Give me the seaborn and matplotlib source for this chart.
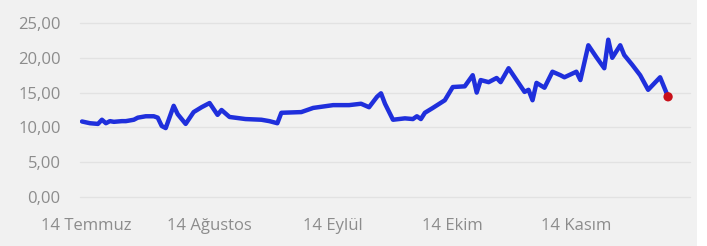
import pandas as pd
import matplotlib
matplotlib.use("Agg")
import matplotlib.pyplot as plt
from matplotlib.patches import Rectangle
from matplotlib.ticker import FuncFormatter
import seaborn as sns

# fiyat serisi (grafikten okunan yaklasik degerler)
tarihler = [
    "2021-07-13", "2021-07-15", "2021-07-17", "2021-07-18", "2021-07-19", "2021-07-20",
    "2021-07-21", "2021-07-23", "2021-07-24", "2021-07-26", "2021-07-27", "2021-07-29",
    "2021-07-31", "2021-08-01", "2021-08-02", "2021-08-03", "2021-08-05", "2021-08-06",
    "2021-08-08", "2021-08-10", "2021-08-12", "2021-08-14", "2021-08-16", "2021-08-17",
    "2021-08-19", "2021-08-23", "2021-08-27", "2021-08-29", "2021-08-31", "2021-09-01",
    "2021-09-06", "2021-09-09", "2021-09-14", "2021-09-18", "2021-09-21", "2021-09-23",
    "2021-09-25", "2021-09-26", "2021-09-27", "2021-09-29", "2021-10-02", "2021-10-04",
    "2021-10-05", "2021-10-06", "2021-10-07", "2021-10-09", "2021-10-12", "2021-10-14",
    "2021-10-17", "2021-10-19", "2021-10-20", "2021-10-21", "2021-10-23", "2021-10-25",
    "2021-10-26", "2021-10-28", "2021-10-30", "2021-11-01", "2021-11-02", "2021-11-03",
    "2021-11-04", "2021-11-06", "2021-11-08", "2021-11-10", "2021-11-11", "2021-11-14",
    "2021-11-15", "2021-11-17", "2021-11-19", "2021-11-21", "2021-11-22", "2021-11-23",
    "2021-11-25", "2021-11-26", "2021-11-28", "2021-11-30", "2021-12-02", "2021-12-05",
    "2021-12-07",
]
fiyat = [
    10.85, 10.6, 10.5, 11.1, 10.6, 10.9,
    10.8, 10.9, 10.9, 11.1, 11.4, 11.6,
    11.6, 11.4, 10.2, 9.9, 13.1, 11.9,
    10.5, 12.2, 12.9, 13.5, 11.8, 12.5,
    11.5, 11.2, 11.1, 10.9, 10.6, 12.1,
    12.2, 12.8, 13.2, 13.2, 13.4, 12.9,
    14.4, 14.9, 13.4, 11.1, 11.3, 11.2,
    11.6, 11.2, 12.1, 12.8, 13.9, 15.8,
    15.9, 17.5, 15.0, 16.8, 16.5, 17.1,
    16.5, 18.5, 16.8, 15.1, 15.4, 13.9,
    16.4, 15.7, 18.0, 17.5, 17.2, 18.0,
    16.8, 21.8, 20.1, 18.5, 22.6, 20.0,
    21.8, 20.4, 19.0, 17.5, 15.4, 17.2,
    14.4,
]

tick_tarihleri = ["2021-07-14", "2021-08-14", "2021-09-14", "2021-10-14", "2021-11-14"]
tick_etiketleri = ["14 Temmuz", "14 Ağustos", "14 Eylül", "14 Ekim", "14 Kasım"]
y_ticks = [0, 5, 10, 15, 20, 25]

df = pd.DataFrame({"tarih": pd.to_datetime(tarihler), "fiyat": fiyat})

sns.set_style("white")
plt.rcParams["font.family"] = ["Open Sans", "DejaVu Sans"]

W, H = 707, 246
fig = plt.figure(figsize=(W / 100, H / 100), dpi=100)
fig.patch.set_facecolor("white")
fig.patches.append(Rectangle((0, 0), 697 / W, 1, transform=fig.transFigure,
                             facecolor="#f1f1f1", edgecolor="none", zorder=-10))

ax = fig.add_axes([80 / W, (H - 197) / H, (690 - 80) / W, (197 - 23) / H])
ax.set_facecolor("none")

sns.lineplot(data=df, x="tarih", y="fiyat", ax=ax, color="#1f2fdc",
             linewidth=3.2, solid_joinstyle="round", zorder=3)
son = df.iloc[[-1]]
sns.scatterplot(data=son, x="tarih", y="fiyat", ax=ax, color="#c8101a",
                s=45, edgecolor="none", zorder=4)

ax.set_ylim(0, 25)
ax.set_yticks(y_ticks)
ax.yaxis.set_major_formatter(FuncFormatter(lambda v, p: f"{v:.2f}".replace(".", ",")))
ax.set_xlim(pd.Timestamp("2021-07-12 12:00"), pd.Timestamp("2021-12-12 12:00"))
ax.set_xticks(pd.to_datetime(tick_tarihleri))
ax.set_xticklabels(tick_etiketleri)

ax.grid(axis="y", color="#e2e2e2", linewidth=1.0, clip_on=False)
ax.grid(axis="x", visible=False)
for s in ax.spines.values():
    s.set_visible(False)
ax.tick_params(axis="y", length=0, pad=14, labelsize=12, labelcolor="#8c8c8c")
ax.tick_params(axis="x", length=0, pad=15, labelsize=12, labelcolor="#8c8c8c")
ax.set_xlabel("")
ax.set_ylabel("")

fig.savefig("out.png", dpi=100)
